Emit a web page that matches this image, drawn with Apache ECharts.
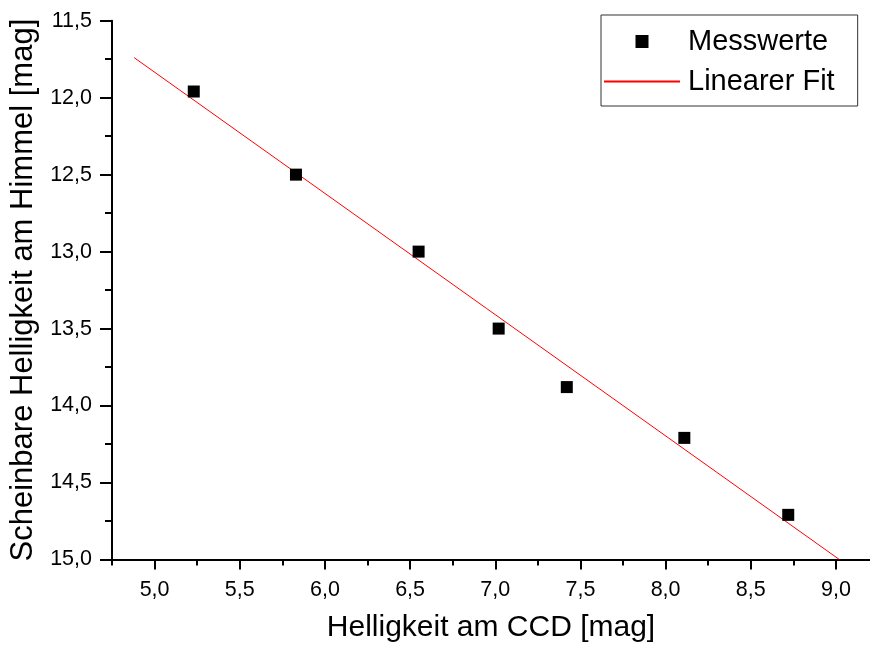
<!DOCTYPE html>
<html>
<head>
<meta charset="utf-8">
<script src="https://cdn.jsdelivr.net/npm/echarts@6/dist/echarts.min.js"></script>
<style>
html,body{margin:0;padding:0;background:#fff;}
#main{width:870px;height:646px;}
</style>
</head>
<body>
<div id="main"></div>
<script>
// Data
const ccdMag = [5.23, 5.83, 6.55, 7.02, 7.42, 8.11, 8.72];
const skyMag = [11.96, 12.50, 13.00, 13.50, 13.88, 14.21, 14.71];
const fitX = [4.88, 9.02];
const fitY = [11.74, 15.00];
const xMajorTicks = [5.0, 5.5, 6.0, 6.5, 7.0, 7.5, 8.0, 8.5, 9.0];
const xMinorTicks = [4.75, 5.25, 5.75, 6.25, 6.75, 7.25, 7.75, 8.25, 8.75];
const seriesNames = ['Messwerte', 'Linearer Fit'];
const xTitle = 'Helligkeit am CCD [mag]';
const yTitle = 'Scheinbare Helligkeit am Himmel [mag]';

const FONT = '"Liberation Sans", Arial, sans-serif';
const fmt = v => Number(v).toFixed(1).replace('.', ',');

const chart = echarts.init(document.getElementById('main'), null, {renderer: 'canvas'});
const axisLine = {show: true, lineStyle: {color: '#000', width: 2}};

chart.setOption({
  animation: false,
  backgroundColor: '#fff',
  grid: {left: 112, right: 0, top: 20.7, bottom: 86.5, containLabel: false, outerBoundsMode: 'none'},
  legend: {
    orient: 'vertical',
    left: 601, top: 15,
    padding: [11, 23, 9, 2],
    itemWidth: 76, itemHeight: 13, itemGap: 9,
    symbolKeepAspect: true,
    borderColor: '#333', borderWidth: 1,
    backgroundColor: '#fff',
    textStyle: {fontFamily: FONT, fontSize: 29, color: '#000', lineHeight: 31, padding: [0, 0, 0, 3]},
    data: [
      {name: seriesNames[0], icon: 'path://M0,0H10V10H0Z', itemStyle: {color: '#000'}},
      {name: seriesNames[1], itemStyle: {opacity: 0}}
    ]
  },
  xAxis: [{
    type: 'value', position: 'bottom',
    min: 4.75, max: 9.2,
    name: xTitle, nameLocation: 'middle', nameGap: 53,
    nameTextStyle: {fontFamily: FONT, fontSize: 30, color: '#000'},
    axisLine: axisLine,
    axisTick: {show: true, length: 10, lineStyle: {color: '#000', width: 2}, customValues: xMajorTicks},
    axisLabel: {fontFamily: FONT, fontSize: 21.5, color: '#000', margin: 20, formatter: fmt, customValues: xMajorTicks},
    splitLine: {show: false}
  }, {
    type: 'value', position: 'bottom',
    min: 4.75, max: 9.2,
    axisLine: {show: false},
    axisTick: {show: true, length: 6, lineStyle: {color: '#000', width: 2}, customValues: xMinorTicks},
    axisLabel: {show: false},
    splitLine: {show: false}
  }],
  yAxis: {
    type: 'value', inverse: true,
    min: 11.5, max: 15.0, interval: 0.5,
    name: yTitle, nameLocation: 'middle', nameGap: 62, nameRotate: 90,
    nameTextStyle: {fontFamily: FONT, fontSize: 31, color: '#000'},
    axisLine: axisLine,
    axisTick: {show: true, length: 12, lineStyle: {color: '#000', width: 2}},
    minorTick: {show: true, splitNumber: 2, length: 7, lineStyle: {color: '#000', width: 2}},
    axisLabel: {fontFamily: FONT, fontSize: 21.5, color: '#000', margin: 20, formatter: fmt},
    splitLine: {show: false}
  },
  series: [{
    name: seriesNames[0], type: 'scatter',
    symbol: 'rect', symbolSize: 12,
    itemStyle: {color: '#000', opacity: 1},
    data: ccdMag.map((x, i) => [x, skyMag[i]]),
    z: 3
  }, {
    name: seriesNames[1], type: 'line',
    showSymbol: false, symbol: 'none',
    lineStyle: {color: '#ff0000', width: 1},
    itemStyle: {color: '#ff0000'},
    data: fitX.map((x, i) => [x, fitY[i]]),
    z: 2
  }]
});
</script>
</body>
</html>
